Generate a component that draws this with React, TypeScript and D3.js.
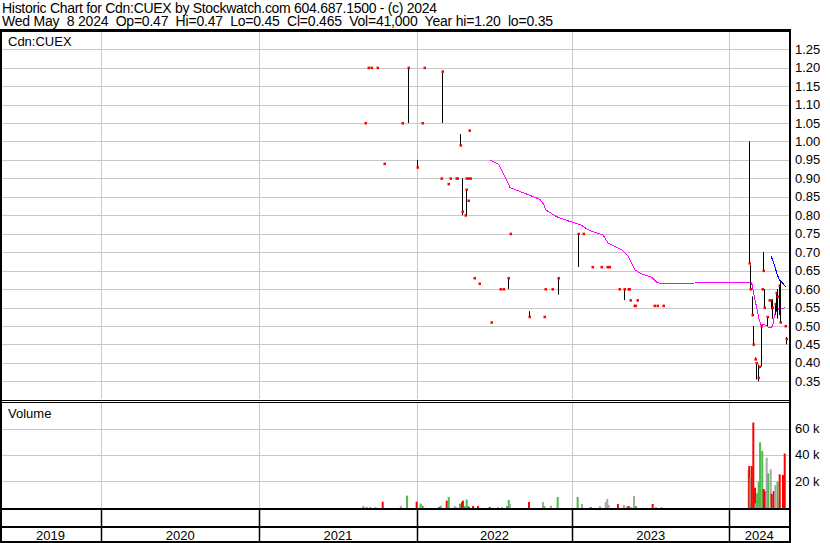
import React from "react";
import * as d3 from "d3";

// ---- data (dates are decimal years) ----
const priceT = [2021.670, 2021.690, 2021.711, 2021.747, 2021.791, 2021.906, 2021.944,
  2022.005, 2022.033, 2022.046, 2022.157, 2022.162, 2022.202, 2022.215, 2022.254, 2022.260, 2022.281, 2022.294, 2022.311, 2022.318, 2022.320, 2022.329, 2022.331, 2022.337, 2022.343, 2022.367, 2022.401, 2022.476, 2022.536, 2022.555, 2022.585, 2022.600, 2022.724, 2022.816, 2022.825, 2022.868, 2022.910,
  2023.038, 2023.066, 2023.124, 2023.183, 2023.219, 2023.232, 2023.297, 2023.332, 2023.353, 2023.361, 2023.368, 2023.393, 2023.399, 2023.410, 2023.520, 2023.539, 2023.578,
  2024.127, 2024.134, 2024.143, 2024.153, 2024.162, 2024.172, 2024.180, 2024.192, 2024.205, 2024.211, 2024.217, 2024.224, 2024.238, 2024.256, 2024.266, 2024.275, 2024.288, 2024.297, 2024.307, 2024.318, 2024.326, 2024.355, 2024.361];
const priceH = [1.05, 1.20, 1.20, 1.20, 0.94, 1.05, 1.20,
  0.95, 1.05, 1.20, 0.90, 1.19, 0.885, 0.90, 0.90, 0.90, 1.02, 0.90, 0.80, 0.90, 0.87, 0.84, 0.90, 1.03, 0.90, 0.63, 0.615, 0.51, 0.60, 0.60, 0.63, 0.75, 0.54, 0.525, 0.60, 0.60, 0.63,
  0.75, 0.75, 0.66, 0.66, 0.66, 0.66, 0.60, 0.60, 0.60, 0.60, 0.57, 0.555, 0.555, 0.57, 0.555, 0.555, 0.555,
  1.00, 0.665, 0.58, 0.50, 0.415, 0.40, 0.395, 0.39, 0.50, 0.60, 0.70, 0.60, 0.525, 0.57, 0.57, 0.57, 0.56, 0.59, 0.60, 0.61, 0.62, 0.50, 0.47];
const priceL = [1.05, 1.20, 1.20, 1.20, 0.94, 1.05, 1.05,
  0.93, 1.05, 1.20, 0.90, 1.05, 0.885, 0.90, 0.90, 0.90, 0.99, 0.80, 0.80, 0.90, 0.80, 0.84, 0.90, 1.03, 0.90, 0.63, 0.615, 0.51, 0.60, 0.60, 0.60, 0.75, 0.525, 0.525, 0.60, 0.60, 0.585,
  0.66, 0.75, 0.66, 0.66, 0.66, 0.66, 0.60, 0.57, 0.60, 0.60, 0.57, 0.555, 0.555, 0.57, 0.555, 0.555, 0.555,
  0.67, 0.60, 0.53, 0.45, 0.41, 0.355, 0.35, 0.385, 0.39, 0.60, 0.65, 0.55, 0.50, 0.57, 0.545, 0.52, 0.53, 0.54, 0.52, 0.53, 0.51, 0.50, 0.45];
const priceC = [1.05, 1.20, 1.20, 1.20, 0.94, 1.05, 1.20,
  0.93, 1.05, 1.20, 0.90, 1.19, 0.885, 0.90, 0.90, 0.90, 0.99, 0.81, 0.80, 0.90, 0.87, 0.84, 0.90, 1.03, 0.90, 0.63, 0.615, 0.51, 0.60, 0.60, 0.63, 0.75, 0.525, 0.525, 0.60, 0.60, 0.63,
  0.75, 0.75, 0.66, 0.66, 0.66, 0.66, 0.60, 0.60, 0.60, 0.60, 0.57, 0.555, 0.555, 0.57, 0.555, 0.555, 0.555,
  0.67, 0.60, 0.53, 0.45, 0.41, 0.40, 0.36, 0.39, 0.50, 0.60, 0.65, 0.55, 0.525, 0.57, 0.57, 0.55, 0.56, 0.59, 0.58, 0.61, 0.51, 0.50, 0.465];

const volT = [2021.662, 2021.683, 2021.704, 2021.740, 2021.785, 2021.900, 2021.940,
  2022.001, 2022.027, 2022.040, 2022.146, 2022.155, 2022.194, 2022.207, 2022.245, 2022.254, 2022.279, 2022.292, 2022.298, 2022.309, 2022.322, 2022.331, 2022.337, 2022.363, 2022.395, 2022.470, 2022.523, 2022.549, 2022.581, 2022.592, 2022.600, 2022.722, 2022.812, 2022.820, 2022.863, 2022.906,
  2023.034, 2023.062, 2023.117, 2023.176, 2023.213, 2023.223, 2023.232, 2023.291, 2023.329, 2023.348, 2023.359, 2023.376, 2023.393, 2023.406, 2023.512, 2023.533, 2023.571,
  2024.124, 2024.127, 2024.135, 2024.143, 2024.153, 2024.164, 2024.168, 2024.177, 2024.187, 2024.190, 2024.196, 2024.210, 2024.219, 2024.226, 2024.238, 2024.248, 2024.264, 2024.270, 2024.283, 2024.293, 2024.307, 2024.318, 2024.321, 2024.342, 2024.353];
const volV = [1100, 300, 400, 300, 4400, 1400, 9000,
  4400, 2900, 1400, 300, 1400, 5200, 8000, 1100, 400, 2900, 4000, 5200, 1100, 6000, 1100, 300, 1100, 1100, 400, 300, 300, 1100, 5700, 2700, 4200, 4200, 1100, 1400, 8000,
  8000, 2700, 300, 1100, 4200, 6500, 1900, 2700, 1900, 900, 1100, 300, 8700, 1100, 2700, 300, 300,
  28500, 31500, 22600, 31500, 64500, 15000, 3200, 10800, 19600, 1000, 49500, 43000, 14000, 12500, 37800, 26000, 29000, 10300, 12500, 17000, 19600, 6500, 25200, 24700, 41000];
// u = up (green), d = down (red), n = unchanged (grey)
const volDir = ["u", "u", "n", "n", "d", "n", "u",
  "d", "u", "u", "d", "u", "d", "u", "n", "n", "u", "d", "d", "u", "u", "u", "d", "d", "d", "d", "n", "n", "u", "u", "n", "d", "n", "u", "n", "u",
  "u", "n", "d", "n", "n", "n", "n", "d", "n", "n", "d", "n", "n", "u", "d", "n", "n",
  "u", "d", "n", "d", "d", "d", "n", "u", "u", "n", "u", "u", "d", "d", "n", "u", "n", "d", "d", "n", "u", "n", "d", "d", "d"];

const maLongT = [2022.472, 2022.525, 2022.540, 2022.579, 2022.600, 2022.685, 2022.793, 2022.818, 2022.831, 2022.900, 2022.985,
  2023.049, 2023.113, 2023.197, 2023.229, 2023.315, 2023.357, 2023.399, 2023.431, 2023.506, 2023.538, 2023.559,
  2024.143, 2024.147, 2024.164, 2024.178, 2024.191, 2024.202, 2024.227, 2024.255, 2024.270, 2024.280, 2024.287, 2024.297, 2024.317, 2024.344, 2024.359];
const maLongV = [0.95, 0.939, 0.927, 0.895, 0.875, 0.861, 0.843, 0.828, 0.814, 0.796, 0.783,
  0.775, 0.758, 0.746, 0.724, 0.706, 0.688, 0.652, 0.643, 0.632, 0.618, 0.616,
  0.617, 0.606, 0.570, 0.543, 0.516, 0.504, 0.503, 0.495, 0.496, 0.507, 0.527, 0.539, 0.548, 0.548, 0.552];
const maShortT = [2024.266, 2024.287, 2024.302, 2024.318, 2024.340, 2024.359];
const maShortV = [0.690, 0.665, 0.644, 0.625, 0.616, 0.606];

const priceTicks = ["1.25", "1.20", "1.15", "1.10", "1.05", "1.00", "0.95", "0.90", "0.85", "0.80", "0.75", "0.70", "0.65", "0.60", "0.55", "0.50", "0.45", "0.40", "0.35"];
const volTicks = [60000, 40000, 20000];
const volTickLabels = ["60 k", "40 k", "20 k"];
const years = [2019, 2020, 2021, 2022, 2023, 2024];

const title1 = "Historic Chart for Cdn:CUEX by Stockwatch.com 604.687.1500 - (c) 2024";
const title2 = "Wed May  8 2024  Op=0.47  Hi=0.47  Lo=0.45  Cl=0.465  Vol=41,000  Year hi=1.20  lo=0.35";

const FONT = "'Liberation Sans', Arial, sans-serif";

export default function App() {
  const W = 830, H = 543;
  const left = 2, right = 789;
  const xs = d3.scaleLinear()
    .domain([2019, 2020, 2021, 2022, 2023, 2024, 2025])
    .range([-56, 101, 259.3, 416.5, 572.3, 729.3, 886.3]);
  const yP = d3.scaleLinear().domain([0.35, 1.25]).range([381.3, 49.2]);
  const yV = d3.scaleLinear().domain([0, 60000]).range([507.5, 428.5]);
  const priceTop = 32, priceBot = 399, volTop = 403, volBot = 508;
  const gridColor = "#c8c8c8";

  const lineLong = d3.line<number>().x((_, i) => xs(maLongT[i])).y((d) => yP(d));
  const lineShort = d3.line<number>().x((_, i) => xs(maShortT[i])).y((d) => yP(d));
  const volColor = (d: string) => (d === "u" ? "#4cbb4c" : d === "d" ? "#ff0000" : "#a8a8a8");
  const yearBounds = years.filter((y) => y > 2019).map((y) => Math.round(xs(y)) + 0.5);

  return (
    <svg width={W} height={H} style={{ position: "absolute", left: 0, top: 0, background: "#fff" }} fontFamily={FONT}>
      <rect x={0} y={0} width={W} height={H} fill="#fff" />
      <text x={2} y={13} fontSize={14} xmlSpace="preserve" style={{ whiteSpace: "pre" }} textLength={435} lengthAdjust="spacing">{title1}</text>
      <text x={2} y={26} fontSize={14} xmlSpace="preserve" style={{ whiteSpace: "pre" }} textLength={551} lengthAdjust="spacing">{title2}</text>

      {/* price grid */}
      {priceTicks.map((t) => (
        <line key={"pg" + t} x1={left} x2={right} y1={Math.round(yP(+t)) + 0.5} y2={Math.round(yP(+t)) + 0.5} stroke={gridColor} />
      ))}
      {yearBounds.map((x) => (
        <line key={"vg" + x} x1={x} x2={x} y1={priceTop} y2={priceBot} stroke={gridColor} />
      ))}
      {/* volume grid */}
      {volTicks.map((t) => (
        <line key={"vgr" + t} x1={left} x2={right} y1={Math.round(yV(t)) + 0.5} y2={Math.round(yV(t)) + 0.5} stroke={gridColor} />
      ))}
      {yearBounds.map((x) => (
        <line key={"vvg" + x} x1={x} x2={x} y1={volTop} y2={volBot} stroke={gridColor} />
      ))}

      <text x={8} y={46} fontSize={13}>Cdn:CUEX</text>
      <text x={8} y={418} fontSize={13}>Volume</text>

      {/* moving averages */}
      <path d={lineLong(maLongV) || ""} fill="none" stroke="#ff00ff" strokeWidth={1} shapeRendering="crispEdges" />
      <path d={lineShort(maShortV) || ""} fill="none" stroke="#0000ff" strokeWidth={1} shapeRendering="crispEdges" />

      {/* price bars */}
      {priceT.map((t, i) => {
        const x = Math.round(xs(t));
        const yh = yP(priceH[i]);
        const yl = yP(priceL[i]);
        return (
          <g key={"pb" + i}>
            {priceH[i] > priceL[i] && <rect x={x} y={yh} width={1} height={yl - yh} fill="#000" />}
            <rect x={x - 0.5} y={yP(priceC[i]) - 1} width={2.5} height={2.5} fill="#ff0000" />
          </g>
        );
      })}

      {/* volume bars */}
      {volT.map((t, i) => {
        const x = xs(t);
        const y = yV(volV[i]);
        return <rect key={"vb" + i} x={x - 1} y={y} width={2} height={509 - y} fill={volColor(volDir[i])} />;
      })}

      {/* frame */}
      <rect x={0} y={29} width={791} height={3} fill="#000" />
      <rect x={0} y={29} width={2} height={514} fill="#000" />
      <rect x={789} y={29} width={2} height={514} fill="#000" />
      <rect x={0} y={400} width={790} height={1} fill="#000" />
      <rect x={0} y={402} width={790} height={1} fill="#000" />
      <rect x={0} y={508} width={790} height={2} fill="#000" />
      <rect x={0} y={526} width={790} height={2} fill="#000" />
      <rect x={0} y={541} width={790} height={2} fill="#000" />
      {yearBounds.map((x) => (
        <line key={"ys" + x} x1={x} x2={x} y1={509} y2={542} stroke="#000" strokeWidth={1.5} />
      ))}

      {/* year labels */}
      {years.map((y) => {
        const a = Math.max(xs(y), 0);
        const b = Math.min(xs(y + 1), right);
        return (
          <text key={"yl" + y} x={(a + b) / 2} y={540} fontSize={13} textAnchor="middle">{y}</text>
        );
      })}

      {/* right axis labels */}
      {priceTicks.map((t) => (
        <text key={"pt" + t} x={795} y={yP(+t)} dy="0.35em" fontSize={13}>{t}</text>
      ))}
      {volTicks.map((t, i) => (
        <text key={"vt" + t} x={795} y={yV(t)} dy="0.35em" fontSize={13}>{volTickLabels[i]}</text>
      ))}
    </svg>
  );
}
